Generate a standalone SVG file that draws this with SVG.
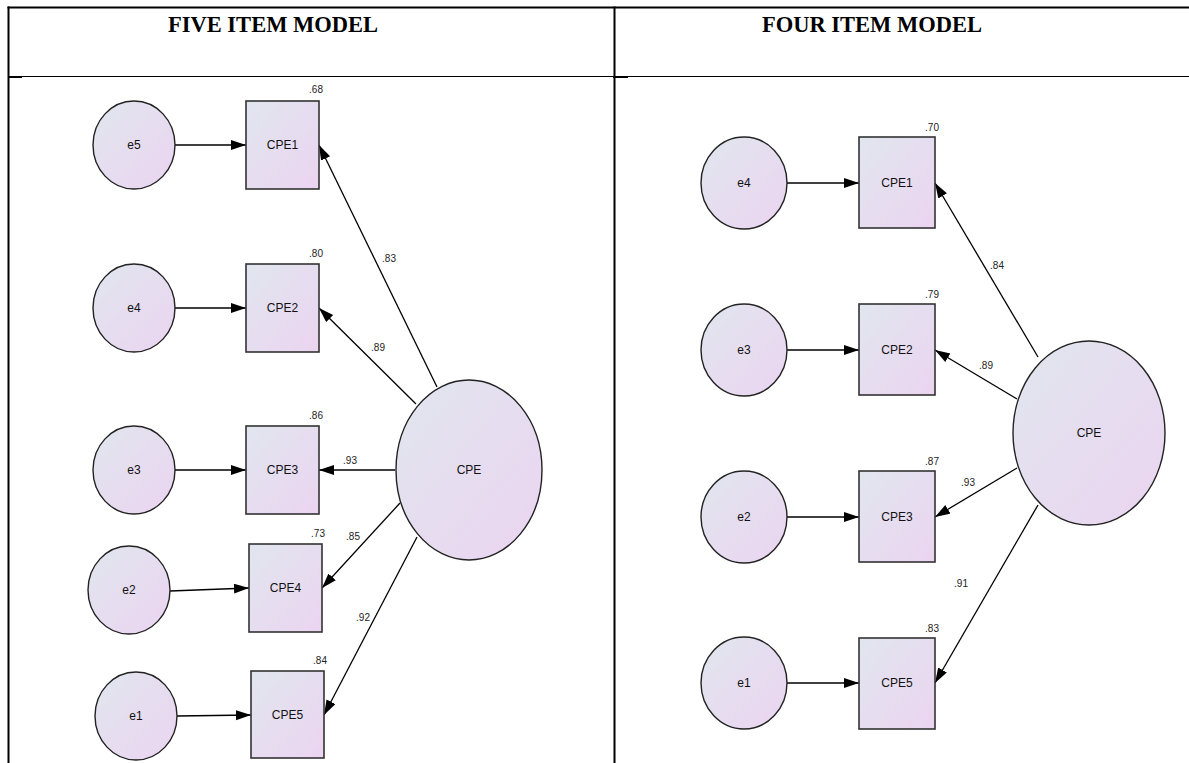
<svg xmlns="http://www.w3.org/2000/svg" width="1189" height="763" viewBox="0 0 1189 763">
<defs>
<linearGradient id="g" x1="0" y1="0" x2="1" y2="1">
<stop offset="0" stop-color="#e1e6ee"/>
<stop offset="1" stop-color="#ebd4f1"/>
</linearGradient>
<marker id="ah" markerUnits="userSpaceOnUse" markerWidth="16" markerHeight="12" refX="15" refY="5" orient="auto">
<path d="M0,0 L15,5 L0,10 z" fill="#000"/>
</marker>
<style>
.n{fill:url(#g);stroke:#222;stroke-width:1.4}
.r{fill:url(#g);stroke:#333;stroke-width:1.6}
.t{font-family:"Liberation Sans",Arial,sans-serif;font-size:12px;fill:#111;text-anchor:middle}
.v{font-family:"Liberation Sans",Arial,sans-serif;font-size:10px;fill:#222;text-anchor:middle}
.h{font-family:"Liberation Serif","Times New Roman",serif;font-size:22.5px;font-weight:bold;fill:#000;text-anchor:middle}
.c line{stroke:#000;stroke-width:1.3;marker-end:url(#ah)}
.tb{stroke:#000;fill:none}
</style>
</defs>
<rect width="1189" height="763" fill="#fff"/>
<g id="table">
<line class="tb" x1="7.5" y1="7.5" x2="1189" y2="7.5" stroke-width="2"/>
<line class="tb" x1="8.5" y1="6.5" x2="8.5" y2="763" stroke-width="2"/>
<line class="tb" x1="614.5" y1="6.5" x2="614.5" y2="763" stroke-width="2"/>
<line class="tb" x1="8" y1="76.5" x2="1189" y2="76.5" stroke-width="1"/>
<line class="tb" x1="8" y1="77" x2="22" y2="77" stroke-width="2"/>
<line class="tb" x1="613" y1="77" x2="628" y2="77" stroke-width="2"/>
<text class="h" x="273" y="32">FIVE ITEM MODEL</text>
<text class="h" x="872" y="32">FOUR ITEM MODEL</text>
</g>
<g class="c" id="connectors">
<line x1="175" y1="145" x2="246" y2="145"/>
<line x1="175" y1="308" x2="246" y2="308"/>
<line x1="175" y1="470" x2="246" y2="470"/>
<line x1="170" y1="591" x2="249" y2="588"/>
<line x1="177" y1="716" x2="251" y2="715"/>
<line x1="437" y1="387" x2="319" y2="145"/>
<line x1="416" y1="404" x2="319" y2="308"/>
<line x1="395" y1="470" x2="319" y2="470"/>
<line x1="400" y1="503" x2="322" y2="588"/>
<line x1="417" y1="537" x2="324" y2="715"/>
<line x1="787" y1="183" x2="859" y2="183"/>
<line x1="787" y1="350" x2="859" y2="350"/>
<line x1="787" y1="517" x2="859" y2="517"/>
<line x1="787" y1="683" x2="859" y2="683"/>
<line x1="1038" y1="357" x2="935" y2="183"/>
<line x1="1017" y1="399" x2="935" y2="350"/>
<line x1="1017" y1="468" x2="935" y2="517"/>
<line x1="1038" y1="505" x2="935" y2="683"/>
</g>
<g id="labels">
<text class="v" x="389" y="262">.83</text>
<text class="v" x="378" y="351">.89</text>
<text class="v" x="350" y="464">.93</text>
<text class="v" x="353" y="540">.85</text>
<text class="v" x="363" y="621">.92</text>
<text class="v" x="997" y="269">.84</text>
<text class="v" x="986" y="369">.89</text>
<text class="v" x="968" y="486">.93</text>
<text class="v" x="961" y="587">.91</text>
</g>
<g id="L_e5"><ellipse class="n" cx="134" cy="145" rx="41" ry="44"/><text class="t" x="134" y="149">e5</text></g>
<g id="L_e4"><ellipse class="n" cx="134" cy="308" rx="41" ry="44"/><text class="t" x="134" y="312">e4</text></g>
<g id="L_e3"><ellipse class="n" cx="134" cy="470" rx="41" ry="44"/><text class="t" x="134" y="474">e3</text></g>
<g id="L_e2"><ellipse class="n" cx="129" cy="590" rx="41" ry="44"/><text class="t" x="129" y="594">e2</text></g>
<g id="L_e1"><ellipse class="n" cx="136" cy="716" rx="41" ry="44"/><text class="t" x="136" y="720">e1</text></g>
<g id="L_CPE1"><rect class="r" x="246" y="101" width="73" height="88"/><text class="t" x="282.5" y="149">CPE1</text><text class="v" x="316" y="93">.68</text></g>
<g id="L_CPE2"><rect class="r" x="246" y="264" width="73" height="88"/><text class="t" x="282.5" y="312">CPE2</text><text class="v" x="316" y="257">.80</text></g>
<g id="L_CPE3"><rect class="r" x="246" y="426" width="73" height="88"/><text class="t" x="282.5" y="474">CPE3</text><text class="v" x="316" y="419">.86</text></g>
<g id="L_CPE4"><rect class="r" x="249" y="544" width="73" height="88"/><text class="t" x="285.5" y="592">CPE4</text><text class="v" x="318" y="537">.73</text></g>
<g id="L_CPE5"><rect class="r" x="251" y="671" width="73" height="87"/><text class="t" x="287.5" y="719">CPE5</text><text class="v" x="320" y="664">.84</text></g>
<g id="L_CPE"><ellipse class="n" cx="469" cy="470" rx="73" ry="90"/><text class="t" x="469" y="474">CPE</text></g>
<g id="R_e4"><ellipse class="n" cx="744" cy="183" rx="43" ry="46"/><text class="t" x="744" y="187">e4</text></g>
<g id="R_e3"><ellipse class="n" cx="744" cy="350" rx="43" ry="46"/><text class="t" x="744" y="354">e3</text></g>
<g id="R_e2"><ellipse class="n" cx="744" cy="517" rx="43" ry="46"/><text class="t" x="744" y="521">e2</text></g>
<g id="R_e1"><ellipse class="n" cx="744" cy="683" rx="43" ry="46"/><text class="t" x="744" y="687">e1</text></g>
<g id="R_CPE1"><rect class="r" x="859" y="137" width="76" height="91"/><text class="t" x="897" y="187">CPE1</text><text class="v" x="932" y="131">.70</text></g>
<g id="R_CPE2"><rect class="r" x="859" y="304" width="76" height="91"/><text class="t" x="897" y="354">CPE2</text><text class="v" x="932" y="298">.79</text></g>
<g id="R_CPE3"><rect class="r" x="859" y="471" width="76" height="91"/><text class="t" x="897" y="521">CPE3</text><text class="v" x="932" y="465">.87</text></g>
<g id="R_CPE5"><rect class="r" x="859" y="638" width="76" height="91"/><text class="t" x="897" y="687">CPE5</text><text class="v" x="932" y="632">.83</text></g>
<g id="R_CPE"><ellipse class="n" cx="1089" cy="433" rx="76" ry="92"/><text class="t" x="1089" y="437">CPE</text></g>
</svg>
